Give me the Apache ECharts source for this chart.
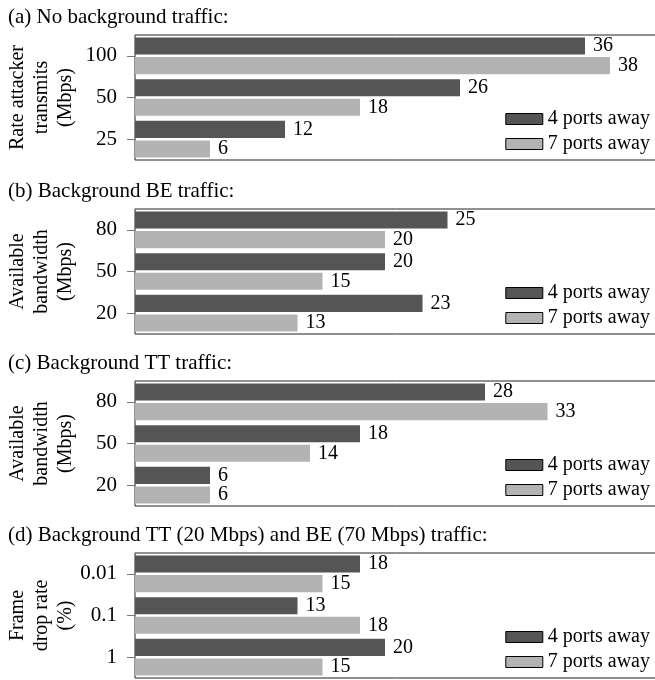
<!DOCTYPE html>
<html>
<head>
<meta charset="utf-8">
<script src="https://cdn.jsdelivr.net/npm/echarts@6/dist/echarts.min.js"></script>
<style>html,body{margin:0;padding:0;background:#fff}#c{width:655px;height:680px}</style>
</head>
<body>
<div id="c"></div>
<script>
// Panel titles and axis names
const titles = ['(a) No background traffic:', '(b) Background BE traffic:', '(c) Background TT traffic:', '(d) Background TT (20 Mbps) and BE (70 Mbps) traffic:'];
const axisNames = ['Rate attacker\ntransmits\n(Mbps)', 'Available\nbandwidth\n(Mbps)', 'Available\nbandwidth\n(Mbps)', 'Frame\ndrop rate\n(%)'];
const seriesNames = ['4 ports away', '7 ports away'];
// Categories
const catA = ['100', '50', '25'];
const catB = ['80', '50', '20'];
const catC = ['80', '50', '20'];
const catD = ['0.01', '0.1', '1'];
// Values: 4 ports away / 7 ports away
const a4 = [36, 26, 12], a7 = [38, 18, 6];
const b4 = [25, 20, 23], b7 = [20, 15, 13];
const c4 = [28, 18, 6],  c7 = [33, 14, 6];
const d4 = [18, 13, 20], d7 = [15, 18, 15];

const cats = [catA, catB, catC, catD];
const v4 = [a4, b4, c4, d4];
const v7 = [a7, b7, c7, d7];

const FONT = "'Liberation Serif', 'Times New Roman', serif";
const DARK = '#555555', LIGHT = '#b3b3b3';
const tops = [35, 209, 381, 553];
const H = 125;

const option = {
  animation: false,
  backgroundColor: '#fff',
  title: [], grid: [], xAxis: [], yAxis: [], series: [], legend: []
};
for (let i = 0; i < 4; i++) {
  option.title.push({
    text: titles[i], left: 3, top: tops[i] - 33,
    textStyle: {fontFamily: FONT, fontSize: 21, fontWeight: 'normal', color: '#000'}
  });
  option.grid.push({
    left: 135, top: tops[i], width: 525, height: H,
    containLabel: false, outerBoundsMode: 'none',
    show: true, borderColor: '#222', borderWidth: 1, backgroundColor: 'transparent'
  });
  option.xAxis.push({
    gridIndex: i, type: 'value', min: 0, max: 42, show: false
  });
  option.yAxis.push({
    gridIndex: i, type: 'category', data: cats[i], inverse: true,
    axisLine: {show: false},
    axisTick: {show: true, alignWithLabel: true, length: 8, lineStyle: {color: '#777'}},
    axisLabel: {fontFamily: FONT, fontSize: 21, color: '#000', margin: 18},
    name: axisNames[i], nameLocation: 'middle', nameRotate: 90, nameGap: 57,
    nameMoveOverlap: false,
    nameTextStyle: {fontFamily: FONT, fontSize: 20, color: '#000', lineHeight: 24}
  });
  [v4[i], v7[i]].forEach((vals, k) => {
    option.series.push({
      name: seriesNames[k], type: 'bar', xAxisIndex: i, yAxisIndex: i,
      data: vals, barCategoryGap: '12%', barGap: '15%',
      itemStyle: {color: k === 0 ? DARK : LIGHT},
      label: {show: true, position: 'right', distance: 8, fontFamily: FONT, fontSize: 20, color: '#000'}
    });
  });
  option.legend.push({
    data: seriesNames, orient: 'vertical', right: 0, top: tops[i] + 69,
    icon: 'rect', itemWidth: 37, itemHeight: 11, itemGap: 5, selectedMode: false,
    itemStyle: {borderColor: '#000', borderWidth: 1},
    textStyle: {fontFamily: FONT, fontSize: 20, color: '#000'}
  });
}
const chart = echarts.init(document.getElementById('c'), null, {renderer: 'canvas'});
chart.setOption(option);
</script>
</body>
</html>
